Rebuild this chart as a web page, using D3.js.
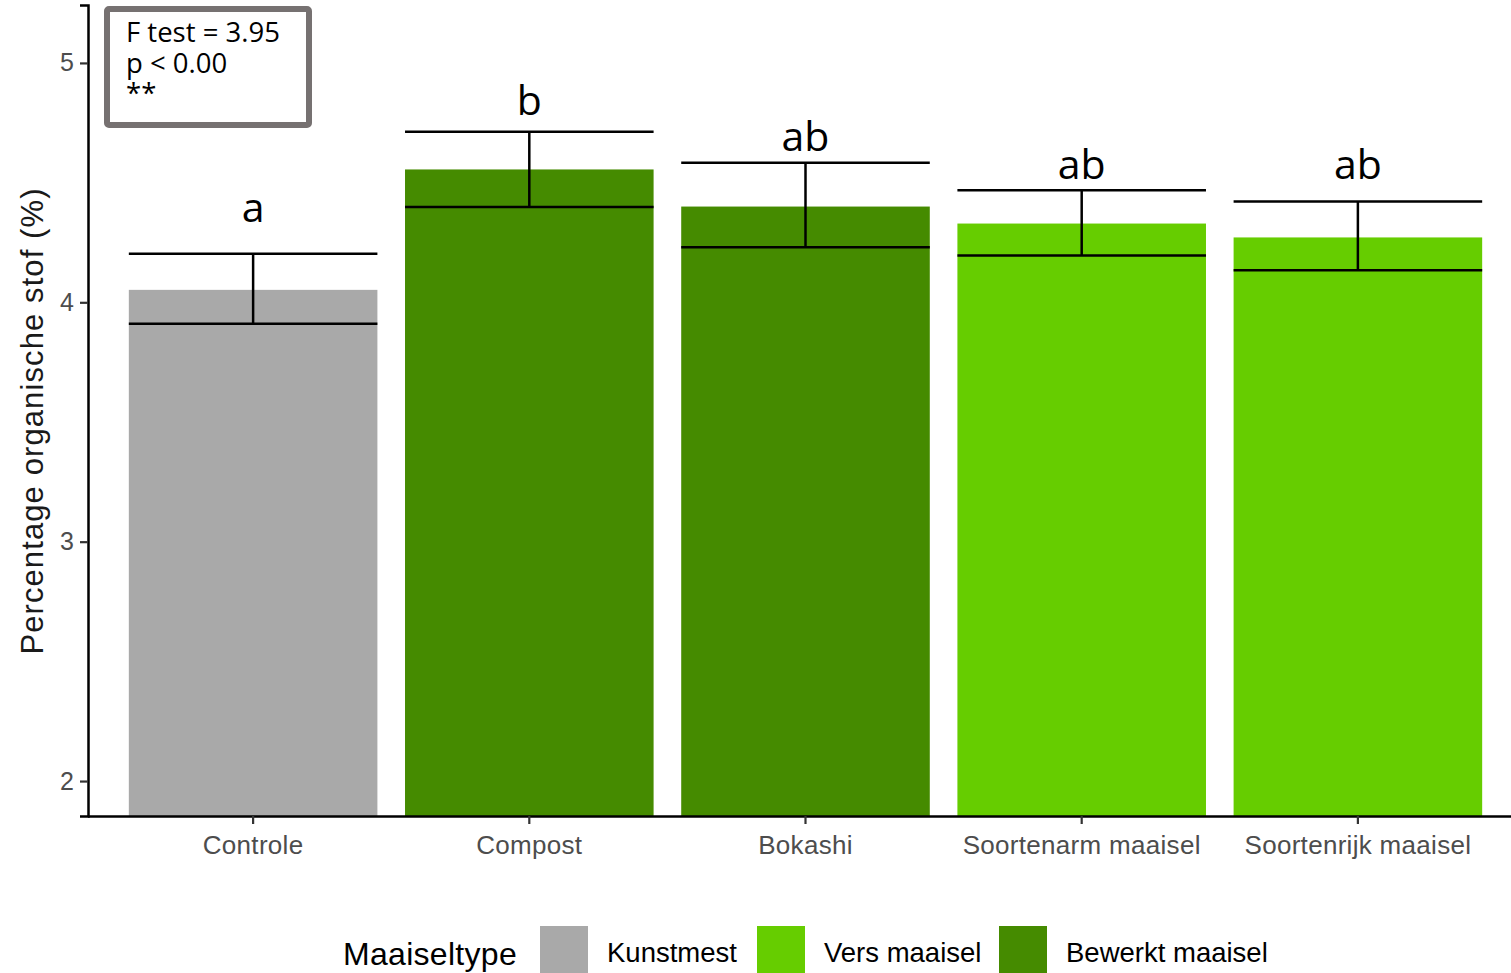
<!DOCTYPE html>
<html>
<head>
<meta charset="utf-8">
<script src="https://cdn.jsdelivr.net/npm/d3@7"></script>
<style>
  html, body { margin: 0; padding: 0; background: #fff; }
  svg { display: block; }
</style>
</head>
<body>
<svg id="chart" width="1511" height="973"></svg>
<script>
// Organic matter per treatment: mean with error bar bounds
const categories = ["Controle", "Compost", "Bokashi", "Soortenarm maaisel", "Soortenrijk maaisel"];
const groups = ["Kunstmest", "Bewerkt maaisel", "Bewerkt maaisel", "Vers maaisel", "Vers maaisel"];
const means = [4.052, 4.555, 4.400, 4.329, 4.271];
const lower = [3.910, 4.398, 4.230, 4.196, 4.134];
const upper = [4.203, 4.712, 4.583, 4.468, 4.421];
// Significance letters and the value height at which each sits
const letters = ["a", "b", "ab", "ab", "ab"];
const letterAt = [4.336, 4.783, 4.634, 4.516, 4.516];
const yTicks = [2, 3, 4, 5];
const legendGroups = ["Kunstmest", "Vers maaisel", "Bewerkt maaisel"];
const statLines = ["F test = 3.95", "p < 0.00", "**"];

const colors = d3.scaleOrdinal()
  .domain(["Kunstmest", "Vers maaisel", "Bewerkt maaisel"])
  .range(["#a9a9a9", "#66cd00", "#458b00"]);

const svg = d3.select("#chart");
const axisFont = "'Liberation Sans', Arial, sans-serif";
const annoFont = "'Open Sans', 'Noto Sans', sans-serif";

const x = d3.scaleBand()
  .domain(categories)
  .range([87.4, 1523.6])
  .paddingInner(0.1)
  .paddingOuter(0.15);

const y = d3.scaleLinear()
  .domain([1.854, 5.242])
  .range([816, 5]);

const baseY = y.range()[0];

// bars
svg.append("g")
  .selectAll("rect")
  .data(categories)
  .join("rect")
  .attr("x", d => x(d))
  .attr("width", x.bandwidth())
  .attr("y", (d, i) => y(means[i]))
  .attr("height", (d, i) => baseY - y(means[i]))
  .attr("fill", (d, i) => colors(groups[i]));

// error bars: caps span the bar width
const eb = svg.append("g").attr("stroke", "#000").attr("stroke-width", 2.5);
categories.forEach((c, i) => {
  const x0 = x(c), x1 = x(c) + x.bandwidth(), xc = x(c) + x.bandwidth() / 2;
  eb.append("line").attr("x1", x0).attr("x2", x1).attr("y1", y(upper[i])).attr("y2", y(upper[i]));
  eb.append("line").attr("x1", x0).attr("x2", x1).attr("y1", y(lower[i])).attr("y2", y(lower[i]));
  eb.append("line").attr("x1", xc).attr("x2", xc).attr("y1", y(upper[i])).attr("y2", y(lower[i]));
});

// significance letters
svg.append("g")
  .selectAll("text")
  .data(categories)
  .join("text")
  .attr("x", d => x(d) + x.bandwidth() / 2)
  .attr("y", (d, i) => y(letterAt[i]))
  .attr("text-anchor", "middle")
  .attr("font-family", annoFont)
  .attr("font-size", 41)
  .attr("fill", "#000")
  .text((d, i) => letters[i]);

// y axis
const yAxis = svg.append("g")
  .attr("transform", "translate(88,0)")
  .call(d3.axisLeft(y).tickValues(yTicks).tickSize(8).tickPadding(6).tickFormat(d3.format("d")));
yAxis.select(".domain").attr("stroke", "#000").attr("stroke-width", 2.5);
yAxis.selectAll(".tick line").attr("stroke", "#333").attr("stroke-width", 2.2);
yAxis.selectAll(".tick text")
  .attr("font-family", axisFont).attr("font-size", 25).attr("fill", "#4d4d4d");

// x axis
const xAxis = svg.append("g")
  .attr("transform", `translate(0,${baseY})`)
  .call(d3.axisBottom(x).tickSize(8).tickPadding(12).tickSizeOuter(0));
xAxis.select(".domain").attr("stroke", "#000").attr("stroke-width", 2.5);
xAxis.selectAll(".tick line").attr("stroke", "#333").attr("stroke-width", 2.2);
xAxis.selectAll(".tick text")
  .attr("font-family", axisFont).attr("font-size", 26).attr("fill", "#4d4d4d")
  .attr("letter-spacing", "0.3px")
  .attr("dy", "0.71em");

// y axis title
svg.append("text")
  .attr("transform", "translate(43,421) rotate(-90)")
  .attr("text-anchor", "middle")
  .attr("font-family", axisFont)
  .attr("font-size", 31)
  .attr("letter-spacing", "1.1px")
  .attr("fill", "#1a1a1a")
  .text("Percentage organische stof (%)");

// statistics box: one text block, tightly spaced lines
svg.append("rect")
  .attr("x", 107).attr("y", 9).attr("width", 202).attr("height", 116)
  .attr("rx", 2)
  .attr("fill", "#fff").attr("stroke", "#767171").attr("stroke-width", 6);
svg.append("text")
  .attr("x", 126)
  .attr("y", 42)
  .attr("font-family", annoFont)
  .attr("font-size", 27.5)
  .attr("fill", "#000")
  .selectAll("tspan")
  .data(statLines)
  .join("tspan")
  .attr("x", 126)
  .attr("dy", (d, i) => i === 0 ? 0 : 30.5)
  .text(d => d);

// legend
const legend = svg.append("g");
legend.append("text")
  .attr("x", 343).attr("y", 965)
  .attr("font-family", axisFont).attr("font-size", 32).attr("fill", "#000")
  .attr("letter-spacing", "0.3px")
  .text("Maaiseltype");
const keyX = [540, 757, 999];
legendGroups.forEach((g, i) => {
  legend.append("rect")
    .attr("x", keyX[i]).attr("y", 926).attr("width", 48).attr("height", 48)
    .attr("fill", colors(g));
  legend.append("text")
    .attr("x", keyX[i] + 67).attr("y", 962)
    .attr("font-family", axisFont).attr("font-size", 27.5).attr("fill", "#000")
    .text(g);
});
</script>
</body>
</html>
